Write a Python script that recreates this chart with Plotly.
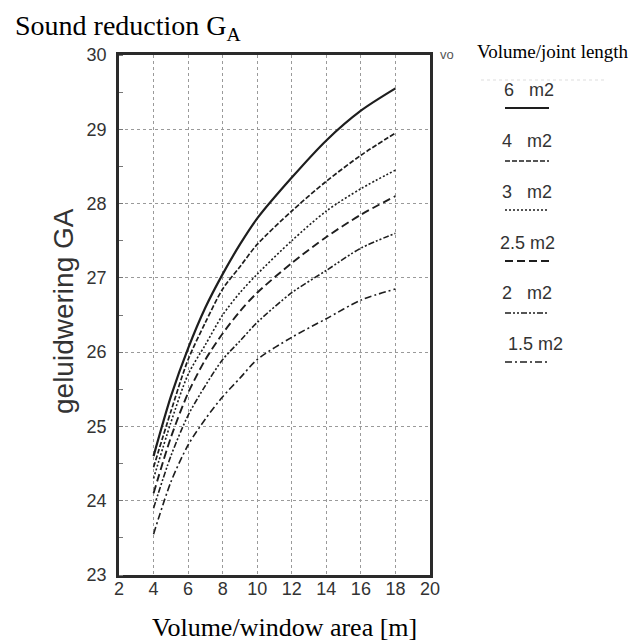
import plotly.graph_objects as go

# ---- data ----
x_vals = [4, 5, 6, 7, 8, 9, 10, 12, 14, 16, 18]
g_6m2 = [24.6, 25.4, 26.05, 26.6, 27.05, 27.45, 27.8, 28.35, 28.85, 29.25, 29.55]
g_4m2 = [24.45, 25.2, 25.9, 26.4, 26.85, 27.15, 27.45, 27.9, 28.3, 28.65, 28.95]
g_3m2 = [24.3, 25.05, 25.7, 26.1, 26.5, 26.8, 27.05, 27.5, 27.9, 28.2, 28.45]
g_25m2 = [24.1, 24.85, 25.45, 25.9, 26.25, 26.55, 26.8, 27.2, 27.55, 27.85, 28.1]
g_2m2 = [23.9, 24.6, 25.15, 25.55, 25.9, 26.15, 26.4, 26.8, 27.1, 27.4, 27.6]
g_15m2 = [23.55, 24.25, 24.75, 25.1, 25.4, 25.65, 25.9, 26.2, 26.45, 26.7, 26.85]

series_labels = ["6\u00a0\u00a0\u00a0m2", "4\u00a0\u00a0\u00a0m2", "3\u00a0\u00a0\u00a0m2", "2.5 m2", "2\u00a0\u00a0\u00a0m2", "1.5 m2"]
series_values = [g_6m2, g_4m2, g_3m2, g_25m2, g_2m2, g_15m2]
series_dash = ["solid", "5px,2px", "2px,2px", "8px,4px", "6px,2px,2px,2px,2px,2px", "7px,3px,2px,3px"]
series_width = [2.2, 1.7, 1.6, 1.9, 1.6, 1.6]

x_ticks = [2, 4, 6, 8, 10, 12, 14, 16, 18, 20]
y_ticks = [23, 24, 25, 26, 27, 28, 29, 30]

# ---- layout geometry (pixels) ----
W = H = 642
L, R, T, B = 111, 220, 47, 75
PW = W - L - R
PH = H - T - B


def px_x(px):
    return (px - L) / PW


def px_y(py):
    return (H - B - py) / PH


fig = go.Figure()
for lab, vals, dash, wd in zip(series_labels, series_values, series_dash, series_width):
    fig.add_trace(go.Scatter(
        x=x_vals, y=vals, mode="lines", name=lab,
        line=dict(color="#1e1e1e", width=wd, dash=dash, shape="spline", smoothing=0.8),
        showlegend=False,
    ))

axis_font = dict(family="Liberation Sans, Arial, sans-serif", size=18, color="#333")

fig.update_xaxes(
    range=[2, 20], tickvals=x_ticks, ticktext=[str(v) for v in x_ticks],
    showgrid=True, gridcolor="#9a9a9a", griddash="dot", gridwidth=1,
    showline=True, linecolor="#2a2a2a", linewidth=2.5, mirror=True,
    ticks="", tickfont=axis_font, zeroline=False, ticklabelstandoff=-4,
)
fig.update_yaxes(
    range=[23, 30], tickvals=y_ticks, ticktext=[str(v) for v in y_ticks],
    showgrid=True, gridcolor="#9a9a9a", griddash="dot", gridwidth=1,
    showline=True, linecolor="#2a2a2a", linewidth=2.5, mirror=True,
    ticks="", tickfont=axis_font, zeroline=False, ticklabelstandoff=6,
    minor=dict(dtick=0.5, ticks="inside", ticklen=4, tickcolor="#777", showgrid=False),
)

serif = "Liberation Serif, Times New Roman, serif"
sans = "Liberation Sans, Arial, sans-serif"
annotations = [
    dict(text="Sound reduction G<sub>A</sub>", x=px_x(5), y=px_y(20), xanchor="left", yanchor="middle",
         font=dict(family=serif, size=28, color="#000")),
    dict(text="Volume/window area [m]", x=px_x(142), y=px_y(619), xanchor="left", yanchor="middle",
         font=dict(family=serif, size=26, color="#000")),
    dict(text="geluidwering GA", x=px_x(55), y=px_y(303), xanchor="center", yanchor="middle",
         textangle=-90, font=dict(family=sans, size=28, color="#333")),
    dict(text="Volume/joint length", x=px_x(467), y=px_y(43), xanchor="left", yanchor="middle",
         font=dict(family=serif, size=19, color="#000")),
    dict(text="vo", x=px_x(430), y=px_y(46), xanchor="left", yanchor="middle",
         font=dict(family=sans, size=13, color="#555")),
]

label_y = [82, 133, 184, 235, 285, 336]
label_x = [521, 519, 519, 519, 519, 527]
line_y = [100, 153, 202, 253, 305, 354]
shapes = [dict(type="line", xref="paper", yref="paper", x0=px_x(473), x1=px_x(597),
               y0=px_y(72), y1=px_y(72), line=dict(color="#dddddd", width=1, dash="dot"))]
for lab, lx, ly, sy, dash, wd in zip(series_labels, label_x, label_y, line_y, series_dash, series_width):
    annotations.append(dict(text=lab, x=px_x(lx), y=px_y(ly), xanchor="center", yanchor="middle",
                            font=dict(family=sans, size=18, color="#333")))
    shapes.append(dict(type="line", xref="paper", yref="paper",
                       x0=px_x(497), x1=px_x(541), y0=px_y(sy), y1=px_y(sy),
                       line=dict(color="#1e1e1e", width=wd, dash=dash)))

for a in annotations:
    a.update(xref="paper", yref="paper", showarrow=False)

fig.update_layout(
    width=W, height=H, margin=dict(l=L, r=R, t=T, b=B, autoexpand=False),
    paper_bgcolor="white", plot_bgcolor="white",
    annotations=annotations, shapes=shapes, showlegend=False,
)

fig.write_html("out.html")
